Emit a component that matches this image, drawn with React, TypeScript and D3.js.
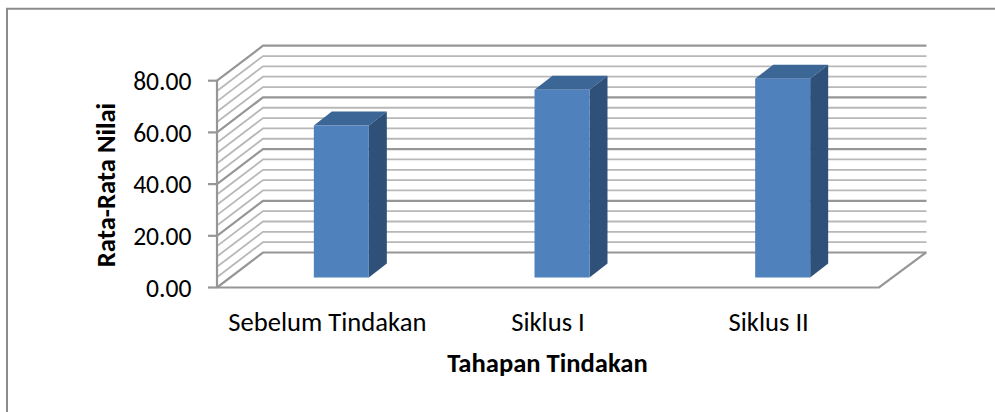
import * as d3 from 'd3'

const categories = ['Sebelum Tindakan', 'Siklus I', 'Siklus II']
const values = [58.8, 72.6, 76.9]
const yTicks = [0, 20, 40, 60, 80]
const minorTicks = [0, 4, 8, 12, 16, 20, 24, 28, 32, 36, 40, 44, 48, 52, 56, 60, 64, 68, 72, 76, 80]

const width = 995
const height = 412
const wallDx = 46
const wallDy = -35
const barDepthDx = 18
const barDepthDy = -14
const barOffsetDx = 14
const barOffsetDy = -10
const barWidth = 55

const x = d3.scaleBand().domain(categories).range([217, 879])
const y = d3.scaleLinear().domain([0, 80]).range([287.5, 80.7])
const zero = y(0)

const fmt = d3.format('.2f')
const poly = d3.line()

export default function App() {
  return (
    <svg
      width={width}
      height={height}
      style={{ position: 'absolute', left: 0, top: 0, fontFamily: 'Carlito, "Open Sans", "Noto Sans", sans-serif' }}
    >
      <rect width={width} height={height} fill="#fff" />

      {/* outer frame */}
      <path d="M7,412V8.7H995" fill="none" stroke="#8c8c8c" strokeWidth={2} />

      {/* left wall and back wall gridlines */}
      {minorTicks.map(t => {
        const major = t % 20 === 0
        const yy = y(t)
        return (
          <path
            key={t}
            d={poly([[x.range()[0], yy], [x.range()[0] + wallDx, yy + wallDy], [926.5, yy + wallDy]]) || ''}
            fill="none"
            stroke={major ? '#969696' : '#b8b8b8'}
            strokeWidth={major ? 2.2 : 1.8}
          />
        )
      })}

      {/* floor */}
      <path
        d={poly([[217, zero], [879, zero], [879 + wallDx + 1, zero + wallDy]]) || ''}
        fill="none"
        stroke="#969696"
        strokeWidth={2.2}
      />

      {/* y axis */}
      <line x1={217} x2={217} y1={y(80)} y2={zero} stroke="#969696" strokeWidth={2.2} />
      {yTicks.map(t => (
        <g key={t}>
          <line x1={208} x2={217} y1={y(t)} y2={y(t)} stroke="#969696" strokeWidth={2.2} />
          <text x={191.5} y={y(t) + 9.3} textAnchor="end" fontSize={25.6} fill="#000">{fmt(t)}</text>
        </g>
      ))}

      {/* bars */}
      {categories.map((c, i) => {
        const cx = (x(c) as number) + x.bandwidth() / 2 + barOffsetDx
        const x0 = cx - barWidth / 2
        const x1 = x0 + barWidth
        const yBase = zero + barOffsetDy
        const yTop = yBase - (zero - y(values[i]))
        return (
          <g key={c}>
            <path
              d={(poly([[x0, yTop], [x1, yTop], [x1 + barDepthDx, yTop + barDepthDy], [x0 + barDepthDx, yTop + barDepthDy]]) || '') + 'Z'}
              fill="#3c6696"
            />
            <path
              d={(poly([[x1, yTop], [x1 + barDepthDx, yTop + barDepthDy], [x1 + barDepthDx, yBase + barDepthDy], [x1, yBase]]) || '') + 'Z'}
              fill="#2f5079"
            />
            <rect x={x0} y={yTop} width={barWidth} height={yBase - yTop} fill="#4f81bd" />
          </g>
        )
      })}

      {/* category labels */}
      {categories.map(c => (
        <text key={c} x={(x(c) as number) + x.bandwidth() / 2} y={331} textAnchor="middle" fontSize={26.6} fill="#000">{c}</text>
      ))}

      {/* axis titles */}
      <text x={547.5} y={372} textAnchor="middle" fontSize={26.6} fontWeight="bold" fill="#000">Tahapan Tindakan</text>
      <text
        transform="translate(115,185) rotate(-90)"
        textAnchor="middle"
        fontSize={26.6}
        fontWeight="bold"
        fill="#000"
      >
        Rata-Rata Nilai
      </text>
    </svg>
  )
}
